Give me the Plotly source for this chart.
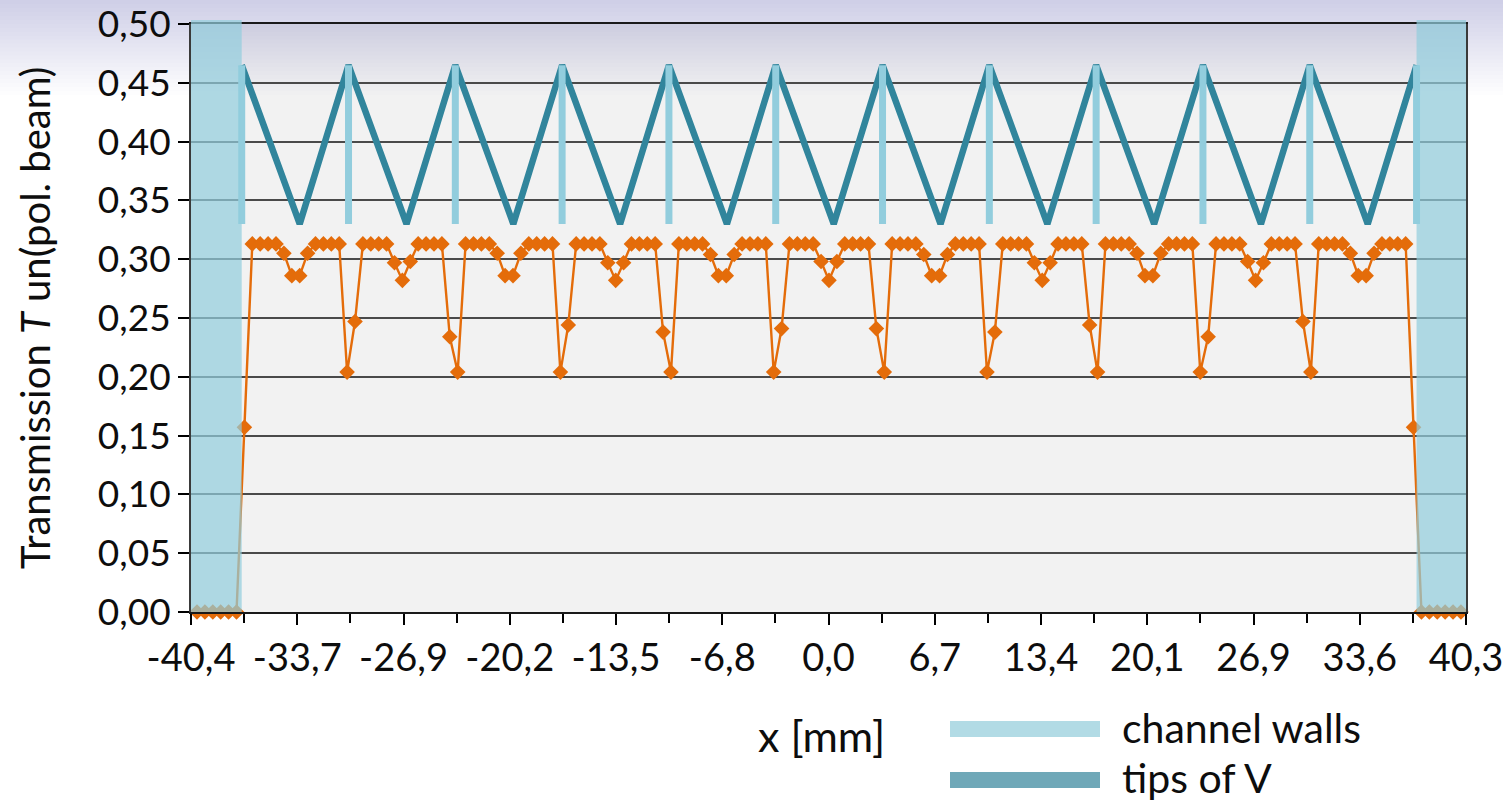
import plotly.graph_objects as go

# ---------------- data ----------------
# Measured transmission profile, sampled every 0.5 mm from -40.0 mm to +40.0 mm
X_START = -40.0
X_STEP = 0.5
T_UNPOL = [
    0.000, 0.000, 0.000, 0.000, 0.000, 0.000,          # -40.0 .. -37.5
    0.157,                                             # -37.0
    0.313, 0.313, 0.313, 0.313,
    0.305, 0.286, 0.286, 0.305,
    0.313, 0.313, 0.313, 0.313,
    0.204, 0.247,
    0.313, 0.313, 0.313, 0.313,
    0.297, 0.282, 0.298,
    0.313, 0.313, 0.313, 0.313,
    0.234, 0.204,
    0.313, 0.313, 0.313, 0.313,
    0.305, 0.286, 0.286, 0.305,
    0.313, 0.313, 0.313, 0.313,
    0.204, 0.244,
    0.313, 0.313, 0.313, 0.313,
    0.297, 0.282, 0.297,
    0.313, 0.313, 0.313, 0.313,
    0.238, 0.204,
    0.313, 0.313, 0.313, 0.313,
    0.304, 0.286, 0.286, 0.304,
    0.313, 0.313, 0.313, 0.313,
    0.204, 0.241,
    0.313, 0.313, 0.313, 0.313,
    0.298, 0.282, 0.298,
    0.313, 0.313, 0.313, 0.313,
    0.241, 0.204,
    0.313, 0.313, 0.313, 0.313,
    0.304, 0.286, 0.286, 0.304,
    0.313, 0.313, 0.313, 0.313,
    0.204, 0.238,
    0.313, 0.313, 0.313, 0.313,
    0.297, 0.282, 0.297,
    0.313, 0.313, 0.313, 0.313,
    0.244, 0.204,
    0.313, 0.313, 0.313, 0.313,
    0.305, 0.286, 0.286, 0.305,
    0.313, 0.313, 0.313, 0.313,
    0.204, 0.234,
    0.313, 0.313, 0.313, 0.313,
    0.298, 0.282, 0.297,
    0.313, 0.313, 0.313, 0.313,
    0.247, 0.204,
    0.313, 0.313, 0.313, 0.313,
    0.305, 0.286, 0.286, 0.305,
    0.313, 0.313, 0.313, 0.313,
    0.157,                                             # +37.0
    0.000, 0.000, 0.000, 0.000, 0.000, 0.000,          # +37.5 .. +40.0
]

# channel walls (x in mm) and tips of the V profile
WALL_X = [-37.17, -30.41, -23.65, -16.89, -10.13, -3.37,
          3.39, 10.15, 16.91, 23.67, 30.43, 37.19]
V_BOTTOM_X = [-33.50, -26.74, -19.98, -13.22, -6.46, 0.30,
              7.06, 13.82, 20.58, 27.34, 34.10]
V_TOP = 0.465
V_BOTTOM = 0.33

# axes
X_AXIS_MIN = -40.38
X_AXIS_MAX = 40.32
X_TICK_LABELS = ["-40,4", "-33,7", "-26,9", "-20,2", "-13,5", "-6,8", "0,0",
                 "6,7", "13,4", "20,1", "26,9", "33,6", "40,3"]
Y_TICKS = [0.00, 0.05, 0.10, 0.15, 0.20, 0.25, 0.30, 0.35, 0.40, 0.45, 0.50]

LEGEND_LABELS = ["channel walls", "tips of V"]

# ---------------- styling ----------------
ORANGE = "#E46C0A"
WALL_COLOR = "#92CDDD"
V_COLOR = "#31859C"
BAND_COLOR = "rgba(146,205,221,0.70)"
LEGEND_COLORS = ["#B2DBE5", "#6FA8B8"]
FONT = "Lato"
TXT = "#0d0d0d"
XTICK_SIZE = 38
YTICK_SIZE = 37
TITLE_SIZE = 40
LEGEND_SIZE = 41
XTITLE_SIZE = 43

W, H = 1503, 803
ML, MR, MT, MB = 191, 37, 24, 191
PW, PH = W - ML - MR, H - MT - MB


def px_x(px):
    return (px - ML) / PW


def px_y(py):
    return (H - MB - py) / PH


x_vals = [X_START + i * X_STEP for i in range(len(T_UNPOL))]

fig = go.Figure()

# measured transmission
fig.add_trace(go.Scatter(
    x=x_vals, y=T_UNPOL, mode="lines+markers",
    line=dict(color=ORANGE, width=2.4),
    marker=dict(symbol="diamond", size=12, color=ORANGE),
    cliponaxis=False, showlegend=False, hoverinfo="x+y",
))

# tips of V (zig-zag)
vx, vy = [], []
for k, wx in enumerate(WALL_X):
    vx.append(wx)
    vy.append(V_TOP)
    if k < len(V_BOTTOM_X):
        vx.append(V_BOTTOM_X[k])
        vy.append(V_BOTTOM)
fig.add_trace(go.Scatter(
    x=vx, y=vy, mode="lines", line=dict(color=V_COLOR, width=6.5),
    showlegend=False, name=LEGEND_LABELS[1],
))

# channel walls (vertical bars)
wx_, wy_ = [], []
for wx in WALL_X:
    wx_ += [wx, wx, None]
    wy_ += [V_BOTTOM, V_TOP, None]
fig.add_trace(go.Scatter(
    x=wx_, y=wy_, mode="lines", line=dict(color=WALL_COLOR, width=7),
    showlegend=False, name=LEGEND_LABELS[0],
))

shapes = []
# soft grey gradient across the top of the picture
n_grad = 24
op = 1 - (1 - 0.24) ** (1 / n_grad)
for i in range(n_grad):
    bottom_px = 95 * (i + 1) / n_grad
    shapes.append(dict(type="rect", xref="paper", yref="paper",
                       x0=px_x(0), x1=px_x(W), y0=px_y(bottom_px), y1=px_y(0),
                       fillcolor="rgb(125,125,130)", opacity=op,
                       line=dict(width=0), layer="below"))

# blue wall bands at both edges (drawn on top)
shapes.append(dict(type="rect", xref="x", yref="paper",
                   x0=X_AXIS_MIN, x1=WALL_X[0], y0=0, y1=px_y(MT - 4),
                   fillcolor=BAND_COLOR, line=dict(width=0), layer="above"))
shapes.append(dict(type="rect", xref="x", yref="paper",
                   x0=WALL_X[-1], x1=X_AXIS_MAX + 0.3, y0=0, y1=px_y(MT - 4),
                   fillcolor=BAND_COLOR, line=dict(width=0), layer="above"))

# manual legend swatches
for (ytop, ybot), col in zip([(721, 737), (772, 788)], LEGEND_COLORS):
    shapes.append(dict(type="rect", xref="paper", yref="paper",
                       x0=px_x(950), x1=px_x(1100), y0=px_y(ybot), y1=px_y(ytop),
                       fillcolor=col, line=dict(width=0)))

annotations = [
    dict(text=LEGEND_LABELS[0], xref="paper", yref="paper", x=px_x(1121), y=px_y(727.5),
         xanchor="left", yanchor="middle", showarrow=False, borderpad=0,
         font=dict(family=FONT, size=LEGEND_SIZE, color=TXT)),
    dict(text=LEGEND_LABELS[1], xref="paper", yref="paper", x=px_x(1121), y=px_y(802.5),
         xanchor="left", yanchor="bottom", showarrow=False, borderpad=0,
         font=dict(family=FONT, size=LEGEND_SIZE, color=TXT)),
    dict(text="x [mm]", xref="paper", yref="paper", x=px_x(821), y=px_y(735),
         xanchor="center", yanchor="middle", showarrow=False,
         font=dict(family=FONT, size=XTITLE_SIZE, color=TXT)),
    dict(text="Transmission <i>T</i> un(pol. beam)", xref="paper", yref="paper",
         x=px_x(35), y=0.5, xanchor="center", yanchor="middle", textangle=-90,
         showarrow=False, font=dict(family=FONT, size=TITLE_SIZE, color=TXT)),
]

major_step = (X_AXIS_MAX - X_AXIS_MIN) / (len(X_TICK_LABELS) - 1)
tickvals = [X_AXIS_MIN + k * major_step for k in range(len(X_TICK_LABELS))]
minor_vals = [X_AXIS_MIN + (k + 0.5) * major_step for k in range(len(X_TICK_LABELS) - 1)]

fig.update_layout(
    width=W, height=H,
    margin=dict(l=ML, r=MR, t=MT, b=MB, pad=0, autoexpand=False),
    paper_bgcolor="white", plot_bgcolor="#F2F2F2",
    separators=", ",
    shapes=shapes, annotations=annotations,
    showlegend=False,
    font=dict(family=FONT, color=TXT),
)
fig.update_xaxes(
    range=[X_AXIS_MIN, X_AXIS_MAX], tickmode="array",
    tickvals=tickvals, ticktext=X_TICK_LABELS,
    ticks="outside", ticklen=11, tickwidth=2, tickcolor="#000",
    minor=dict(tickmode="array", tickvals=minor_vals, ticks="outside",
               ticklen=9, tickwidth=2, tickcolor="#000", showgrid=False),
    showgrid=False, zeroline=False, automargin=False,
    ticklabeloverflow="allow",
    showline=True, linecolor="#1a1a1a", linewidth=2, mirror=True,
    tickfont=dict(family=FONT, size=XTICK_SIZE, color=TXT),
)
fig.update_yaxes(
    range=[Y_TICKS[0], Y_TICKS[-1]], tickmode="array", tickvals=Y_TICKS,
    tickformat=".2f",
    ticks="outside", ticklen=11, tickwidth=2, tickcolor="#000",
    showgrid=True, gridcolor="#4a4a4a", gridwidth=1.8,
    zeroline=False, automargin=False,
    ticklabeloverflow="allow",
    showline=True, linecolor="#3a3a3a", linewidth=2, mirror=True,
    tickfont=dict(family=FONT, size=YTICK_SIZE, color=TXT),
)

fig.write_html("out.html")
